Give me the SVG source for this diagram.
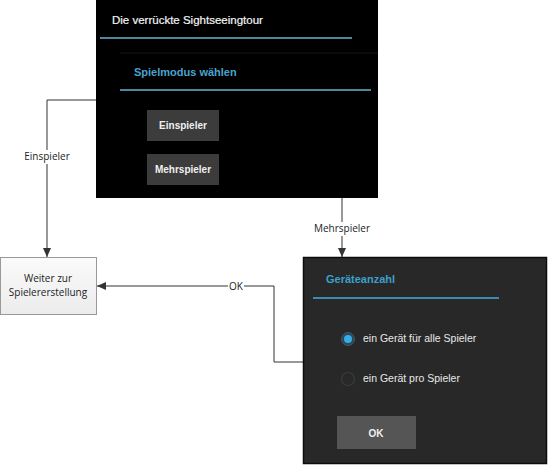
<svg xmlns="http://www.w3.org/2000/svg" width="548" height="467" viewBox="0 0 548 467">
<defs>
<style>
.lbl{font-family:"Open Sans","Liberation Sans",sans-serif;font-size:10px;fill:#222}
.ui{font-family:"Liberation Sans",Arial,sans-serif;font-weight:bold}
.uin{font-family:"Liberation Sans",Arial,sans-serif;font-weight:normal}
.conn{fill:none;stroke:#333;stroke-width:1}
.btn{fill:#3c3c3c}
</style>
<marker id="arr" markerWidth="10" markerHeight="10" refX="9" refY="5" orient="auto" markerUnits="userSpaceOnUse">
<path d="M0,1 L9,5 L0,9 Z" fill="#333"/>
</marker>
<linearGradient id="g" x1="0" y1="0" x2="0" y2="1">
<stop offset="0" stop-color="#fafafa"/><stop offset="1" stop-color="#ececec"/>
</linearGradient>
</defs>
<rect width="548" height="467" fill="#fff"/>
<g id="connectors">
<path class="conn" d="M96,100 H47 V257" marker-end="url(#arr)"/>
<rect x="24" y="150" width="46" height="14" fill="#fff"/>
<text class="lbl" x="47" y="160" text-anchor="middle">Einspieler</text>
<path class="conn" d="M342,198 V257" marker-end="url(#arr)"/>
<rect x="313" y="222" width="58" height="14" fill="#fff"/>
<text class="lbl" x="342" y="232" text-anchor="middle">Mehrspieler</text>
<path class="conn" d="M303,362 H274 V286 H97" marker-end="url(#arr)"/>
<rect x="228" y="279" width="16" height="14" fill="#fff"/>
<text class="lbl" x="236" y="289.5" text-anchor="middle">OK</text>
</g>
<g id="spielmodus">
<rect x="96" y="0" width="282" height="198" fill="#000"/>
<text class="uin" x="112" y="24" font-size="11.5" fill="#f4f4f4" stroke="#f4f4f4" stroke-width="0.2">Die verrückte Sightseeingtour</text>
<line x1="100" y1="38" x2="352" y2="38" stroke="#6ab3d4" stroke-width="1.5"/>
<line x1="120" y1="53" x2="378" y2="53" stroke="#161616" stroke-width="1"/>
<text class="ui" x="134" y="76" font-size="11" fill="#4aa3cf">Spielmodus wählen</text>
<line x1="120" y1="90" x2="371" y2="90" stroke="#6ab3d4" stroke-width="1.5"/>
<rect class="btn" x="147" y="110" width="72" height="31"/>
<text class="ui" x="183" y="129" font-size="10" fill="#f0f0f0" text-anchor="middle">Einspieler</text>
<rect class="btn" x="147" y="154" width="72" height="31"/>
<text class="ui" x="183" y="173" font-size="10" fill="#f0f0f0" text-anchor="middle">Mehrspieler</text>
</g>
<g id="weiter">
<rect x="0.5" y="257.5" width="96" height="57" fill="url(#g)" stroke="#999"/>
<text class="lbl" x="48" y="282" text-anchor="middle">Weiter zur</text>
<text class="lbl" x="48" y="296" text-anchor="middle">Spielererstellung</text>
</g>
<g id="geraeteanzahl">
<rect x="303.5" y="257.5" width="243" height="206" fill="#282828" stroke="#0c0c0c" stroke-width="1.5"/>
<text class="ui" x="326" y="283" font-size="11" fill="#3aa0cc">Geräteanzahl</text>
<line x1="313" y1="298" x2="499" y2="298" stroke="#3fb0dc" stroke-width="1.5"/>
<circle cx="348" cy="339" r="6.5" fill="#2f4656" stroke="#3a5a70" stroke-width="1"/>
<circle cx="348" cy="339" r="4" fill="#33aee6"/>
<text class="uin" x="363" y="342" font-size="10.5" fill="#e8e8e8">ein Gerät für alle Spieler</text>
<circle cx="348" cy="379" r="6.5" fill="none" stroke="#3c3c3c" stroke-width="1.2"/>
<text class="uin" x="363" y="382" font-size="10.5" fill="#e8e8e8">ein Gerät pro Spieler</text>
<rect x="337" y="416" width="79" height="33" fill="#555"/>
<text class="ui" x="376" y="437" font-size="10" fill="#f0f0f0" text-anchor="middle">OK</text>
</g>
</svg>
